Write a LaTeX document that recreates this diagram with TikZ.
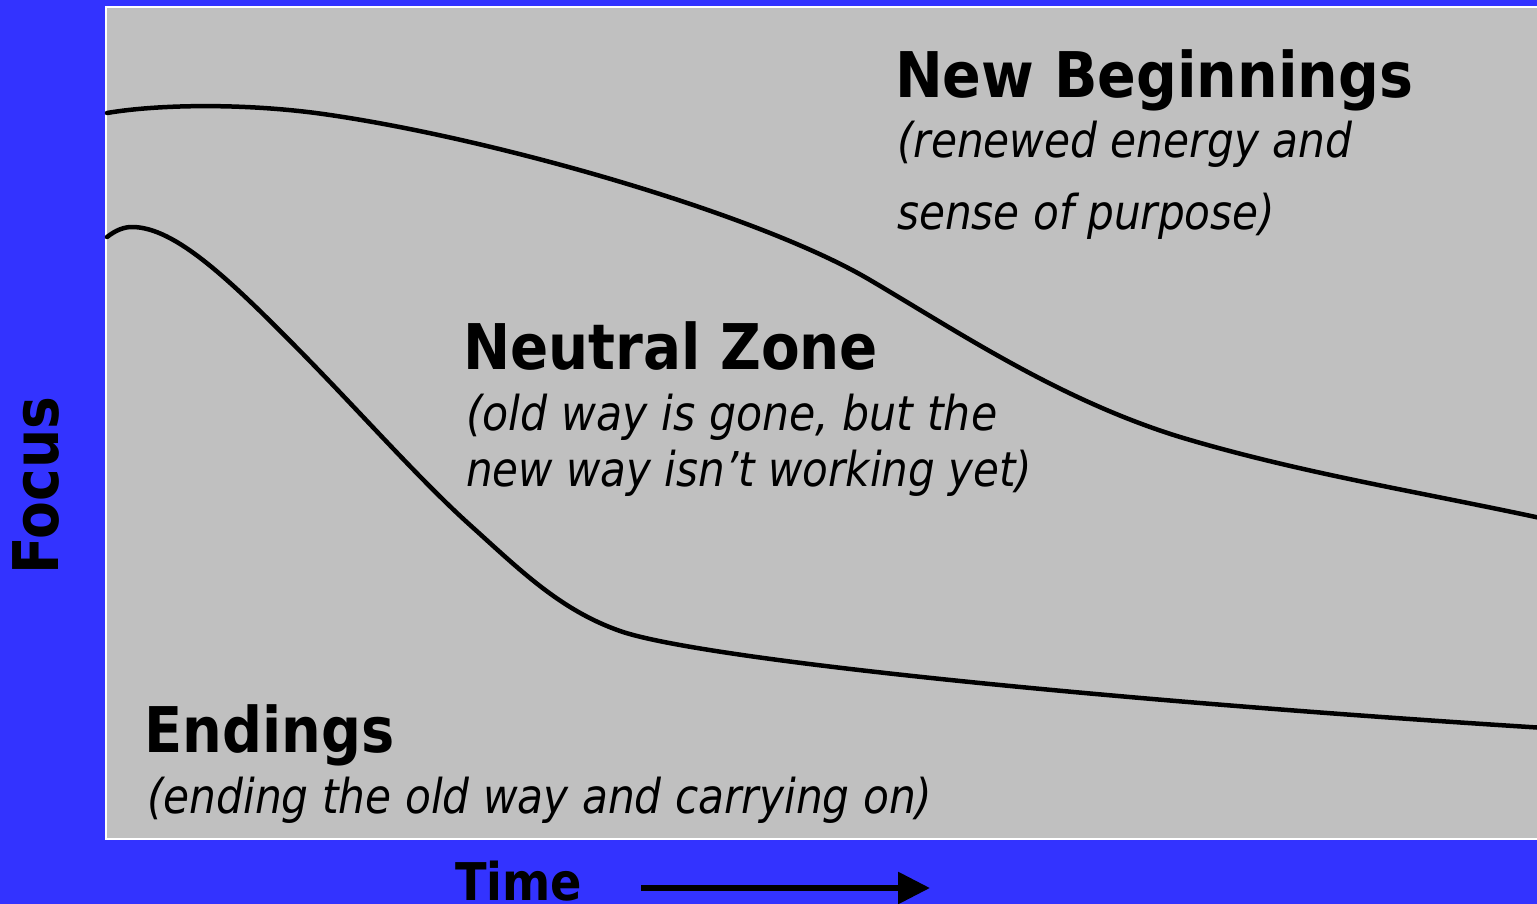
\documentclass[tikz,border=0pt]{standalone}
\usepackage{fontspec}
\setmainfont{DejaVu Sans}
\usetikzlibrary{arrows.meta}
\definecolor{bgblue}{HTML}{3333FF}
\definecolor{panelgray}{HTML}{C0C0C0}
% stretch a text horizontally to a given width, keeping its height
\newcommand{\fitto}[2]{\resizebox{#1}{\height}{#2}}
\newcommand{\headfont}{\fontsize{63}{70}\selectfont\bfseries}
\newcommand{\notefont}{\fontsize{48}{56}\selectfont\itshape}
\begin{document}
\begin{tikzpicture}[x=1pt,y=-1pt,
  label/.style={anchor=base west,inner sep=0pt,text=black},
  curve/.style={line width=4.5pt,line cap=round,line join=round}]
\useasboundingbox (0,0) rectangle (1537,904);
% background and chart panel
\fill[bgblue] (0,0) rectangle (1537,904);
\filldraw[fill=panelgray,draw=white,line width=2pt] (106,7) rectangle (1560,839);
% curve for the new beginnings
\draw[curve] (107,113) .. controls (160,104) and (250,103) .. (330,115)
  .. controls (500,140) and (760,215) .. (870,280)
  .. controls (960,333) and (1060,400) .. (1180,437)
  .. controls (1300,473) and (1420,492) .. (1545,519);
% curve for the endings
\draw[curve] (107,237) .. controls (116,230) and (124,227) .. (132,227)
  .. controls (175,227) and (230,280) .. (300,351)
  .. controls (360,412) and (420,480) .. (470,525)
  .. controls (520,570) and (560,610) .. (620,631)
  .. controls (700,659) and (1100,700) .. (1545,728);
% phase labels
\node[label] (nbtitle) at (895,98) {\fitto{518pt}{\headfont New Beginnings}};
\node[label] (nbnote1) at (897,158) {\fitto{455pt}{\notefont (renewed energy and}};
\node[label] (nbnote2) at (897,230) {\fitto{378pt}{\notefont sense of purpose)}};
\node[label] (nztitle) at (463,369) {\fitto{415pt}{\headfont Neutral Zone}};
\node[label] (nznote1) at (466,430) {\fitto{531pt}{\notefont (old way is gone, but the}};
\node[label] (nznote2) at (466,486) {\fitto{566pt}{\notefont new way isn’t working yet)}};
\node[label] (entitle) at (144,752) {\fitto{250pt}{\headfont Endings}};
\node[label] (ennote) at (147,813) {\fitto{785pt}{\notefont (ending the old way and carrying on)}};
% axes
\node[label,rotate=90] (focus) at (58,575) {\fitto{178pt}{\headfont Focus}};
\node[label] (time) at (455,900) {\fitto{127pt}{\fontsize{52}{58}\selectfont\bfseries Time}};
\coordinate (tstart) at (641,888);
\coordinate (tend) at (930,888);
\draw[line width=6pt,-{Triangle[length=32pt,width=31pt]}] (tstart) -- (tend);
\end{tikzpicture}
\end{document}
